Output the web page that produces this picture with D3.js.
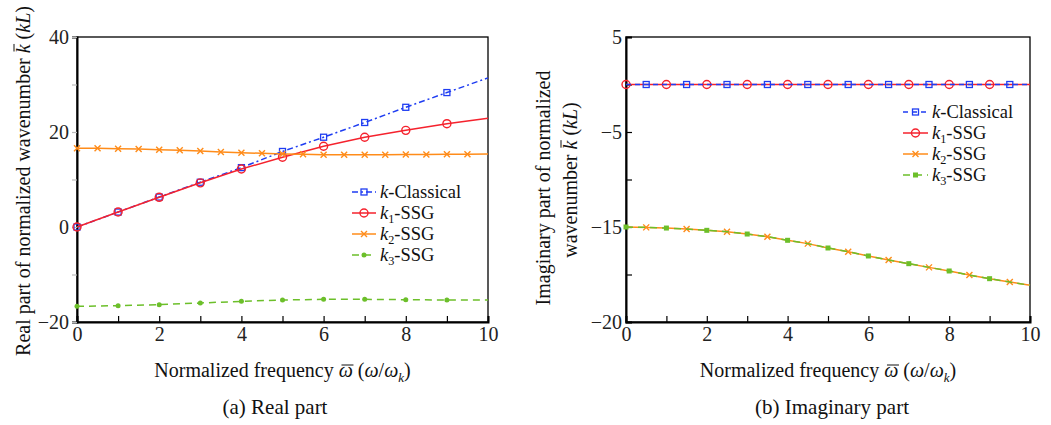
<!DOCTYPE html>
<html><head><meta charset="utf-8">
<script src="https://cdn.jsdelivr.net/npm/d3@7"></script>
<style>
body{margin:0;background:#fff;}
svg{font-family:"Liberation Serif","Times New Roman",serif;}
</style></head>
<body><svg id="c" width="1051" height="425"></svg>
<script>
// ---------- data ----------
const freqInt = [0,1,2,3,4,5,6,7,8,9,10];
const freqHalf = [0,0.5,1,1.5,2,2.5,3,3.5,4,4.5,5,5.5,6,6.5,7,7.5,8,8.5,9,9.5,10];

// (a) real part
const kClassicalRe = [0,3.15,6.3,9.42,12.5,15.9,18.9,22.0,25.2,28.3,31.4];
const k1Re = [0,3.15,6.25,9.3,12.2,14.7,17.0,18.9,20.35,21.75,22.9];
const k2Re = [16.56,16.56,16.49,16.42,16.28,16.14,16.0,15.79,15.65,15.51,15.37,15.3,15.23,15.23,15.23,15.23,15.26,15.26,15.3,15.3,15.37];
const k3Re = [-16.7,-16.56,-16.35,-16.0,-15.65,-15.37,-15.23,-15.23,-15.3,-15.37,-15.37];

// (b) imaginary part
const kClassicalIm = [0,0,0,0,0,0,0,0,0,0,0,0,0,0,0,0,0,0,0,0,0];
const k1Im = [0,0,0,0,0,0,0,0,0,0,0,0,0,0,0,0,0,0,0,0,0];
const k2Im = [-15,-15.04,-15.11,-15.21,-15.35,-15.49,-15.74,-16.02,-16.4,-16.75,-17.21,-17.6,-18.05,-18.47,-18.86,-19.25,-19.63,-20.06,-20.44,-20.79,-21.14];
const k3Im = [-15,-15.04,-15.11,-15.21,-15.35,-15.49,-15.74,-16.02,-16.4,-16.75,-17.21,-17.6,-18.05,-18.47,-18.86,-19.25,-19.63,-20.06,-20.44,-20.79,-21.14];

// ticks
const xTicks = [0,1,2,3,4,5,6,7,8,9,10];
const xTickLabels = ["0","","2","","4","","6","","8","","10"];
const yTicksRe = [40,30,20,10,0,-10,-20];
const yTickLabelsRe = ["40","","20","","0","","\u221220"];
const yTicksIm = [5,0,-5,-10,-15,-20,-25];
const yTickLabelsIm = ["5","","\u22125","","\u221215","","\u221220"];

const legendNames = [["k","","-Classical"],["k","1","-SSG"],["k","2","-SSG"],["k","3","-SSG"]];

// ---------- style ----------
const C = {blue:"#1f3df2", red:"#f5222d", orange:"#ff8c1a", green:"#6cbf2a"};
const FS = 20;
const LFS = 18.5;
const svg = d3.select("#c");

function markerSym(g, type, color, x, y, s){
  if(type==="square"){
    g.append("rect").attr("x",x-s/2).attr("y",y-s/2).attr("width",s).attr("height",s)
     .attr("fill","none").attr("stroke",color).attr("stroke-width",1.3);
  } else if(type==="circle"){
    g.append("circle").attr("cx",x).attr("cy",y).attr("r",s/2)
     .attr("fill","none").attr("stroke",color).attr("stroke-width",1.4);
  } else if(type==="x"){
    const h=s/2;
    g.append("path").attr("d",`M${x-h},${y-h}L${x+h},${y+h}M${x-h},${y+h}L${x+h},${y-h}`)
     .attr("stroke",color).attr("stroke-width",1.4);
  } else if(type==="dot"){
    g.append("circle").attr("cx",x).attr("cy",y).attr("r",s/2).attr("fill",color);
  } else if(type==="fsquare"){
    g.append("rect").attr("x",x-s/2).attr("y",y-s/2).attr("width",s).attr("height",s)
     .attr("fill",color);
  }
}

function kText(t, parts, size){
  t.append("tspan").attr("font-style","italic").text(parts[0]);
  if(parts[1]){
    t.append("tspan").attr("font-size",size*0.66).attr("dy",4).text(parts[1]);
    t.append("tspan").attr("dy",-4).text(parts[2]);
  } else t.append("tspan").text(parts[2]);
}

// draw a bar over character idx of text node t (inside group g)
function overbar(g, t, idx, rise){
  const node = t.node();
  const s = node.getStartPositionOfChar(idx), e = node.getEndPositionOfChar(idx);
  const w = e.x - s.x;
  g.append("line").attr("x1",s.x+w*0.2).attr("x2",e.x+w*0.05)
   .attr("y1",s.y-rise).attr("y2",s.y-rise).attr("stroke","#111").attr("stroke-width",1);
}

function panel(opt){
  const g = svg.append("g");
  const x = d3.scaleLinear().domain([0,10]).range([opt.x0,opt.x1]);
  const y = d3.scaleLinear().domain(opt.ydom).range([322,37]);

  // frame
  g.append("rect").attr("x",opt.x0).attr("y",37).attr("width",opt.x1-opt.x0).attr("height",285)
   .attr("fill","none").attr("stroke","#000").attr("stroke-width",1.3);

  // x axis
  const xa = g.append("g").attr("transform","translate(0,322)")
    .call(d3.axisBottom(x).tickValues(xTicks).tickSize(-6).tickPadding(5)
      .tickFormat((d,i)=>xTickLabels[i]));
  xa.select(".domain").attr("stroke","#000").attr("stroke-width",2);
  xa.selectAll(".tick line").attr("stroke","#000").attr("stroke-width",1.2);
  xa.selectAll("text").attr("font-size",FS).attr("font-family","Liberation Serif").attr("fill","#222");

  // y axis
  const ya = g.append("g").attr("transform",`translate(${opt.x0},0)`)
    .call(d3.axisLeft(y).tickValues(opt.yTicks).tickSize(opt.ytickSize).tickPadding(opt.ypad)
      .tickFormat((d,i)=>opt.yLabels[i]));
  ya.select(".domain").attr("stroke","#000").attr("stroke-width",2);
  ya.selectAll(".tick line").attr("stroke",opt.ytickColor).attr("stroke-width",1.2);
  ya.selectAll("text").attr("font-size",FS).attr("font-family","Liberation Serif").attr("fill","#222");

  // series
  const line = d3.line().x(d=>x(d[0])).y(d=>y(d[1]));
  opt.series.forEach(s=>{
    const pts = s.xs.map((v,i)=>[v,s.ys[i]]);
    g.append("path").attr("d",line(pts)).attr("fill","none").attr("stroke",s.color)
     .attr("stroke-width",1.5).attr("stroke-dasharray",s.dash||null);
    const mg = g.append("g");
    pts.forEach((p,i)=>{ if(s.mark(i,p)) markerSym(mg,s.marker,s.color,x(p[0]),y(p[1]),s.ms); });
  });

  // legend
  const lg = g.append("g");
  opt.legendOrder.forEach((s,i)=>{
    const yy = opt.ly + i*opt.lstep;
    lg.append("line").attr("x1",opt.lx).attr("x2",opt.lx+opt.lw).attr("y1",yy).attr("y2",yy)
      .attr("stroke",s.color).attr("stroke-width",1.5).attr("stroke-dasharray",s.dash||null);
    markerSym(lg,s.marker,s.color,opt.lx+opt.lw/2,yy,s.lms||s.ms);
    const t = lg.append("text").attr("x",opt.lx+opt.lw+4).attr("y",yy+6)
      .attr("font-size",LFS).attr("fill","#111");
    kText(t,legendNames[i],LFS);
  });

  // x label
  const xl = g.append("text").attr("x",(opt.x0+opt.x1)/2).attr("y",377)
    .attr("text-anchor","middle").attr("font-size",FS).attr("fill","#111");
  xl.append("tspan").text("Normalized frequency ");
  xl.append("tspan").attr("font-style","italic").text("\u03C9");
  xl.append("tspan").text(" (");
  xl.append("tspan").attr("font-style","italic").text("\u03C9");
  xl.append("tspan").text("/");
  xl.append("tspan").attr("font-style","italic").text("\u03C9");
  xl.append("tspan").attr("font-style","italic").attr("font-size",FS*0.65).attr("dy",5).text("k");
  xl.append("tspan").attr("dy",-5).text(")");
  overbar(g, xl, "Normalized frequency ".length, 12);

  // caption
  g.append("text").attr("x",opt.capx).attr("y",414).attr("text-anchor","middle")
   .attr("font-size",21).attr("fill","#111").text(opt.caption);

  // y label
  opt.ylabel.forEach((ln,j)=>{
    const lgp = g.append("g").attr("transform",`translate(${ln.x},${ln.y}) rotate(-90)`);
    const t = lgp.append("text").attr("x",0).attr("y",7)
      .attr("text-anchor","middle")
      .attr("font-size",FS).attr("fill","#111");
    t.append("tspan").text(ln.pre);
    if(ln.k){
      t.append("tspan").attr("font-style","italic").text("k");
      t.append("tspan").text(" (");
      t.append("tspan").attr("font-style","italic").text("kL");
      t.append("tspan").text(")");
      overbar(lgp, t, ln.pre.length, 16);
    }
  });
}

const notLast = (i,p)=>p[0]<10;
const sBlueRe = {xs:freqInt, ys:kClassicalRe, color:C.blue, dash:"6,3,2,3", marker:"square", ms:6, mark:notLast};
const sRedRe  = {xs:freqInt, ys:k1Re, color:C.red, marker:"circle", ms:8, mark:notLast};
const sOrRe   = {xs:freqHalf, ys:k2Re, color:C.orange, marker:"x", ms:6, mark:notLast};
const sGrRe   = {xs:freqInt, ys:k3Re, color:C.green, dash:"7,5", marker:"dot", ms:5, mark:notLast};

panel({x0:77,x1:488,ydom:[-20,40],yTicks:yTicksRe,yLabels:yTickLabelsRe,ytickSize:5,ypad:3,ytickColor:"#bbb",
  series:[sBlueRe,sRedRe,sOrRe,sGrRe], legendOrder:[sBlueRe,sRedRe,sOrRe,sGrRe],
  lx:352,lw:24,ly:192,lstep:21, capx:275, caption:"(a) Real part",
  ylabel:[{x:23,y:181,pre:"Real part of normalized wavenumber ",k:true}]});

const odd = (i,p)=>i%2===1 && p[0]<10;
const even = (i,p)=>i%2===0 && p[0]<10;
const sBlueIm = {xs:freqHalf, ys:kClassicalIm, color:C.blue, dash:"5,4", marker:"square", ms:6, mark:odd};
const sRedIm  = {xs:freqHalf, ys:k1Im, color:C.red, marker:"circle", ms:8, mark:even};
const sOrIm   = {xs:freqHalf, ys:k2Im, color:C.orange, marker:"x", ms:6, mark:odd};
const sGrIm   = {xs:freqHalf, ys:k3Im, color:C.green, dash:"7,5", marker:"fsquare", ms:5, lms:5, mark:even};

panel({x0:626,x1:1030,ydom:[-25,5],yTicks:yTicksIm,yLabels:yTickLabelsIm,ytickSize:-6,ypad:4,ytickColor:"#000",
  series:[sRedIm,sBlueIm,sOrIm,sGrIm], legendOrder:[sBlueIm,sRedIm,sOrIm,sGrIm],
  lx:903,lw:25,ly:112,lstep:21, capx:832, caption:"(b) Imaginary part",
  ylabel:[{x:543,y:188,pre:"Imaginary part of normalized",k:false},{x:570,y:180,pre:"wavenumber ",k:true}]});
</script></body></html>
